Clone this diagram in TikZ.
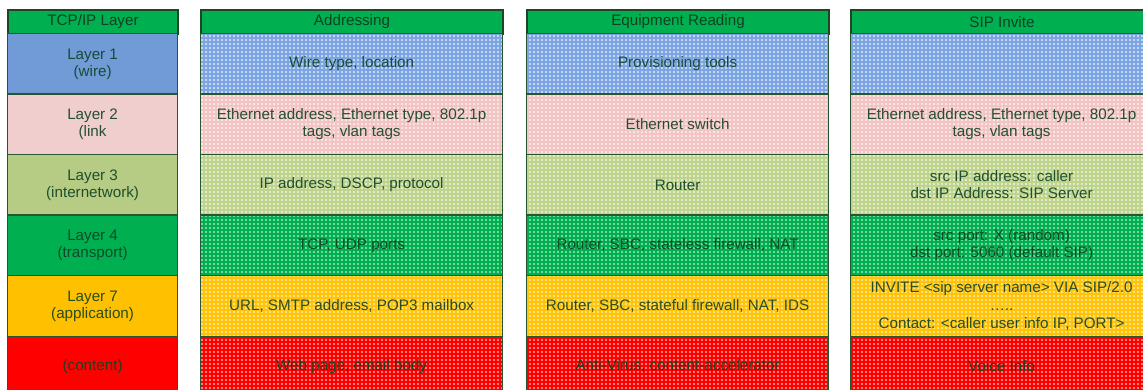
\documentclass[tikz,border=0pt]{standalone}
\usepackage{fontspec}
\setmainfont{Liberation Sans}
\usetikzlibrary{patterns}
\pgfdeclarepatternformonly{mygrid}{\pgfqpoint{-1pt}{-1pt}}{\pgfqpoint{5pt}{5pt}}{\pgfqpoint{4pt}{4pt}}{%
  \pgfsetlinewidth{1.1pt}%
  \pgfpathmoveto{\pgfqpoint{0pt}{-0.5pt}}\pgfpathlineto{\pgfqpoint{0pt}{4.5pt}}%
  \pgfpathmoveto{\pgfqpoint{-0.5pt}{0pt}}\pgfpathlineto{\pgfqpoint{4.5pt}{0pt}}%
  \pgfusepath{stroke}}
\definecolor{txt}{RGB}{15,65,35}
\definecolor{bord}{RGB}{40,85,50}
\definecolor{hdr}{RGB}{0,176,80}
\definecolor{cblue}{RGB}{112,155,214}
\definecolor{cpink}{RGB}{240,206,206}
\definecolor{clgreen}{RGB}{182,204,132}
\definecolor{cgreen}{RGB}{0,176,80}
\definecolor{cyellow}{RGB}{255,192,0}
\definecolor{cred}{RGB}{255,0,0}
\definecolor{gblue}{RGB}{125,165,228}\definecolor{bblue}{RGB}{195,215,242}
\definecolor{gpink}{RGB}{242,196,196}\definecolor{bpink}{RGB}{250,228,228}
\definecolor{glgreen}{RGB}{190,212,140}\definecolor{blgreen}{RGB}{225,235,200}
\definecolor{ggreen}{RGB}{0,176,80}\definecolor{bgreen}{RGB}{120,215,160}
\definecolor{gyellow}{RGB}{255,195,10}\definecolor{byellow}{RGB}{255,225,130}
\definecolor{gred}{RGB}{255,0,0}\definecolor{bred}{RGB}{255,125,125}
\tikzset{
  cell/.style={draw=bord, line width=1.2pt, anchor=north west, inner sep=0pt,
    minimum height=60.5pt, align=center, text=txt, text opacity=0.9,
    font=\fontsize{15.2}{17}\selectfont},
  hcell/.style={draw=bord!80!black, line width=2pt, anchor=north west, inner sep=0pt,
    minimum height=24pt, fill=hdr, text=txt, font=\fontsize{15.2}{17}\selectfont},
  c1/.style={minimum width=170pt},
  c2/.style={minimum width=302pt},
  gcell/.style 2 args={preaction={fill=#2}, pattern=mygrid, pattern color=#1},
  lbl/.style={align=center, text=txt, text opacity=0.9, font=\fontsize{15.2}{17}\selectfont, inner sep=0pt},
}
\begin{document}
\begin{tikzpicture}[x=1pt,y=-1pt]
\useasboundingbox (0,0) rectangle (1143,390);
\clip (0,0) rectangle (1143,390);
% headers
\node[hcell,c1] (h1) at (7,9) {TCP/IP Layer};
\node[hcell,c2] (h2) at (200,9) {Addressing};
\node[hcell,c2] (h3) at (526,9) {Equipment Reading};
\node[hcell,c2] (h4) at (850,9) {SIP Invite};
% column 1
\node[cell,c1,fill=cblue]   (a1) at (7,33)    {Layer 1\\(wire)};
\node[cell,c1,fill=cpink]   (a2) at (7,93.5)  {Layer 2\\(link};
\node[cell,c1,fill=clgreen] (a3) at (7,154)   {Layer 3\\(internetwork)};
\node[cell,c1,fill=cgreen]  (a4) at (7,214.5) {Layer 4\\(transport)};
\node[cell,c1,fill=cyellow] (a5) at (7,275)   {Layer 7\\(application)};
\node[cell,c1,fill=cred]    (a6) at (7,335.5) {(content)};
% columns 2-4
\foreach \x/\n in {200/b,526/c,850/d}{
  \node[cell,c2,gcell={gblue}{bblue}]     (\n1) at (\x,33)    {};
  \node[cell,c2,gcell={gpink}{bpink}]     (\n2) at (\x,93.5)  {};
  \node[cell,c2,gcell={glgreen}{blgreen}] (\n3) at (\x,154)   {};
  \node[cell,c2,gcell={ggreen}{bgreen}]   (\n4) at (\x,214.5) {};
  \node[cell,c2,gcell={gyellow}{byellow}] (\n5) at (\x,275)   {};
  \node[cell,c2,gcell={gred}{bred}]       (\n6) at (\x,335.5) {};
}
\node[lbl] (tb1) at (b1) {Wire type, location};
\node[lbl] (tb2) at (b2) {Ethernet address, Ethernet type, 802.1p\\tags, vlan tags};
\node[lbl] (tb3) at (b3) {IP address, DSCP, protocol};
\node[lbl] (tb4) at (b4) {TCP, UDP ports};
\node[lbl] (tb5) at (b5) {URL, SMTP address, POP3 mailbox};
\node[lbl] (tb6) at (b6) {Web page, email body};
\node[lbl] (tc1) at (c1) {Provisioning tools};
\node[lbl] (tc2) at (c2) {Ethernet switch};
\node[lbl] (tc3) at (c3) {Router};
\node[lbl] (tc4) at (c4) {Router, SBC, stateless firewall, NAT};
\node[lbl] (tc5) at (c5) {Router, SBC, stateful firewall, NAT, IDS};
\node[lbl] (tc6) at (c6) {Anti-Virus, content-accelerator};
\node[lbl] (td2) at (d2) {Ethernet address, Ethernet type, 802.1p\\tags, vlan tags};
\node[lbl] (td3) at (d3) {src IP address: caller\\dst IP Address: SIP Server};
\node[lbl] (td4) at (d4) {src port: X (random)\\dst port: 5060 (default SIP)};
\node[lbl,font=\fontsize{15.2}{18}\selectfont] (td5) at (d5) {INVITE <sip server name> VIA SIP/2.0\\…..\\Contact: <caller user info IP, PORT>};
\node[lbl] (td6) at (d6) {Voice Info};
\end{tikzpicture}
\end{document}
